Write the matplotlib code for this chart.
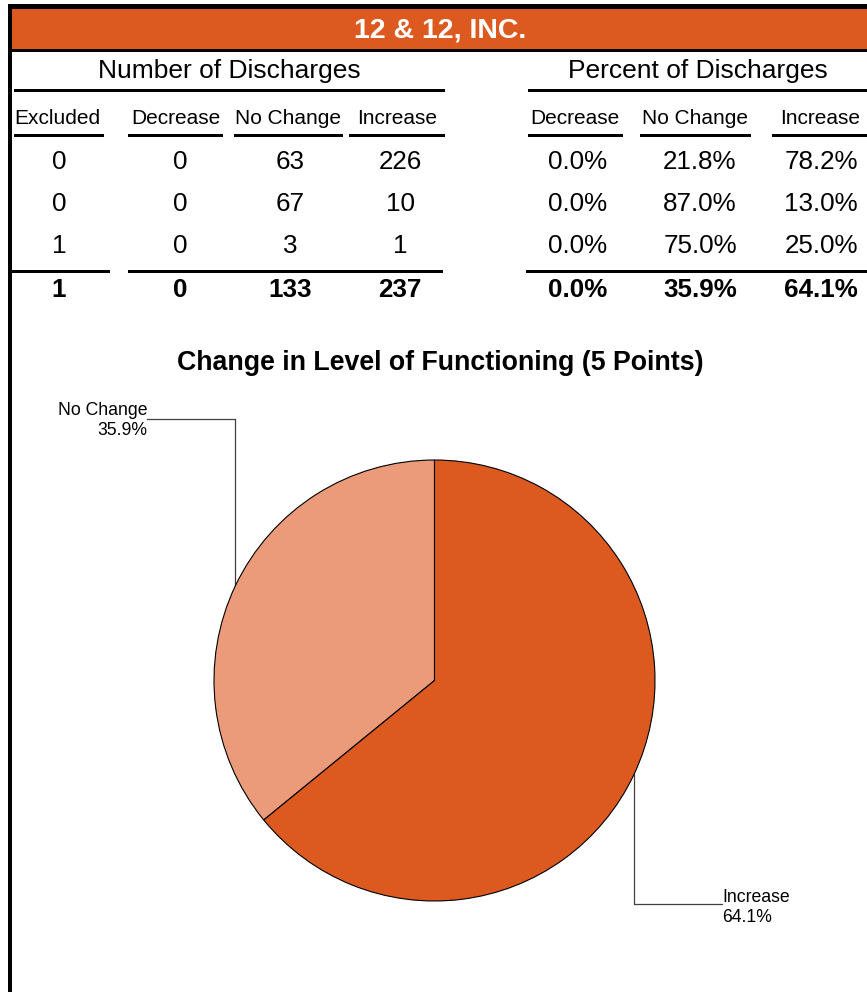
import matplotlib
matplotlib.use("Agg")
import matplotlib.pyplot as plt
from matplotlib.patches import Rectangle
import numpy as np

plt.rcParams['font.family'] = ['Liberation Sans', 'DejaVu Sans']

# ---------------- data ----------------
org_name = "12 & 12, INC."
count_cols = ["Excluded", "Decrease", "No Change", "Increase"]
pct_cols = ["Decrease", "No Change", "Increase"]
excluded = [0, 0, 1]
decrease = [0, 0, 0]
no_change = [63, 67, 3]
increase = [226, 10, 1]
pct_decrease = ["0.0%", "0.0%", "0.0%"]
pct_no_change = ["21.8%", "87.0%", "75.0%"]
pct_increase = ["78.2%", "13.0%", "25.0%"]
total_counts = ["1", "0", "133", "237"]
total_pcts = ["0.0%", "35.9%", "64.1%"]
chart_title = "Change in Level of Functioning (5 Points)"
pie_labels = ["Decrease", "No Change", "Increase"]
pie_values = [0.0, 35.9, 64.1]

ORANGE = "#DC5920"
LIGHT = "#EC9B7A"

W, H = 867, 992
fig = plt.figure(figsize=(W / 100, H / 100), dpi=100)
ax = fig.add_axes([0, 0, 1, 1])
ax.set_xlim(0, W)
ax.set_ylim(H, 0)
ax.axis("off")


def rect(x0, y0, x1, y1, color="black"):
    ax.add_patch(Rectangle((x0, y0), x1 - x0, y1 - y0, facecolor=color,
                           edgecolor="none", zorder=3))


# borders and header bar
rect(8, 4, W, 9)
rect(8, 4, 11.5, H)
rect(11.5, 9, W, 49, ORANGE)
rect(11.5, 49, W, 51.5)
ax.text(440, 38, org_name, color="white", fontsize=20.5, fontweight="bold",
        ha="center", va="baseline")

# section titles
ax.text(229, 78, "Number of Discharges", fontsize=19, ha="center", va="baseline")
ax.text(698, 78, "Percent of Discharges", fontsize=19, ha="center", va="baseline")
rect(14, 88.5, 445, 91.5)
rect(528, 88.5, W, 91.5)

# column headers
left_ul = [(14, 104), (128, 223), (234, 343), (349, 445)]
right_ul = [(528, 623), (640, 751), (772, 867)]
left_hdr_x = [57, 176, 288, 397]
right_hdr_x = [575, 695, 820]
for name, x, (a, b) in zip(count_cols, left_hdr_x, left_ul):
    ax.text(x, 124, name, fontsize=15, ha="center", va="baseline")
    rect(a, 134, b, 137)
for name, x, (a, b) in zip(pct_cols, right_hdr_x, right_ul):
    ax.text(x, 124, name, fontsize=15, ha="center", va="baseline")
    rect(a, 134, b, 137)

# data rows
row_base = [169, 211, 253]
left_x = [59, 180, 290, 400]
right_x = [578, 700, 821]
for i, yb in enumerate(row_base):
    vals = [excluded[i], decrease[i], no_change[i], increase[i]]
    for x, v in zip(left_x, vals):
        ax.text(x, yb, str(v), fontsize=18.7, ha="center", va="baseline")
    pv = [pct_decrease[i], pct_no_change[i], pct_increase[i]]
    for x, v in zip(right_x, pv):
        ax.text(x, yb, v, fontsize=18.7, ha="center", va="baseline")

# totals
rect(11.5, 269.5, 110, 272.5)
rect(128, 269.5, 443, 272.5)
rect(526, 269.5, W, 272.5)
for x, v in zip(left_x, total_counts):
    ax.text(x, 297, v, fontsize=18.7, fontweight="bold", ha="center", va="baseline")
for x, v in zip(right_x, total_pcts):
    ax.text(x, 297, v, fontsize=18.7, fontweight="bold", ha="center", va="baseline")

# chart title
ax.text(440, 369.5, chart_title, fontsize=19.3, fontweight="bold",
        ha="center", va="baseline")

# pie
cx, cy, r = 434.5, 680.5, 220.5
pax = fig.add_axes([(cx - r) / W, (H - cy - r) / H, 2 * r / W, 2 * r / H])
pax.pie(pie_values, colors=[LIGHT, LIGHT, ORANGE], startangle=90,
        counterclock=True, radius=1,
        wedgeprops=dict(edgecolor="black", linewidth=0.8))
pax.set_xlim(-1, 1)
pax.set_ylim(-1, 1)
pax.axis("off")

# leader lines
LC = "#404040"
nc_x, nc_y = 235, 419
y_nc_edge = cy - np.sqrt(r ** 2 - (nc_x - cx) ** 2)
ax.plot([147, nc_x, nc_x], [nc_y, nc_y, y_nc_edge], color=LC, lw=0.9, zorder=4)
ax.text(147, 415, pie_labels[1], fontsize=12.7, ha="right", va="baseline")
ax.text(147, 435, total_pcts[1], fontsize=12.7, ha="right", va="baseline")

in_x, in_y = 634, 904
y_in_edge = cy + np.sqrt(r ** 2 - (in_x - cx) ** 2)
ax.plot([in_x, in_x, 722], [y_in_edge, in_y, in_y], color=LC, lw=0.9, zorder=4)
ax.text(722, 902, pie_labels[2], fontsize=12.7, ha="left", va="baseline")
ax.text(722, 922, total_pcts[2], fontsize=12.7, ha="left", va="baseline")

fig.savefig("out.png", dpi=100)
